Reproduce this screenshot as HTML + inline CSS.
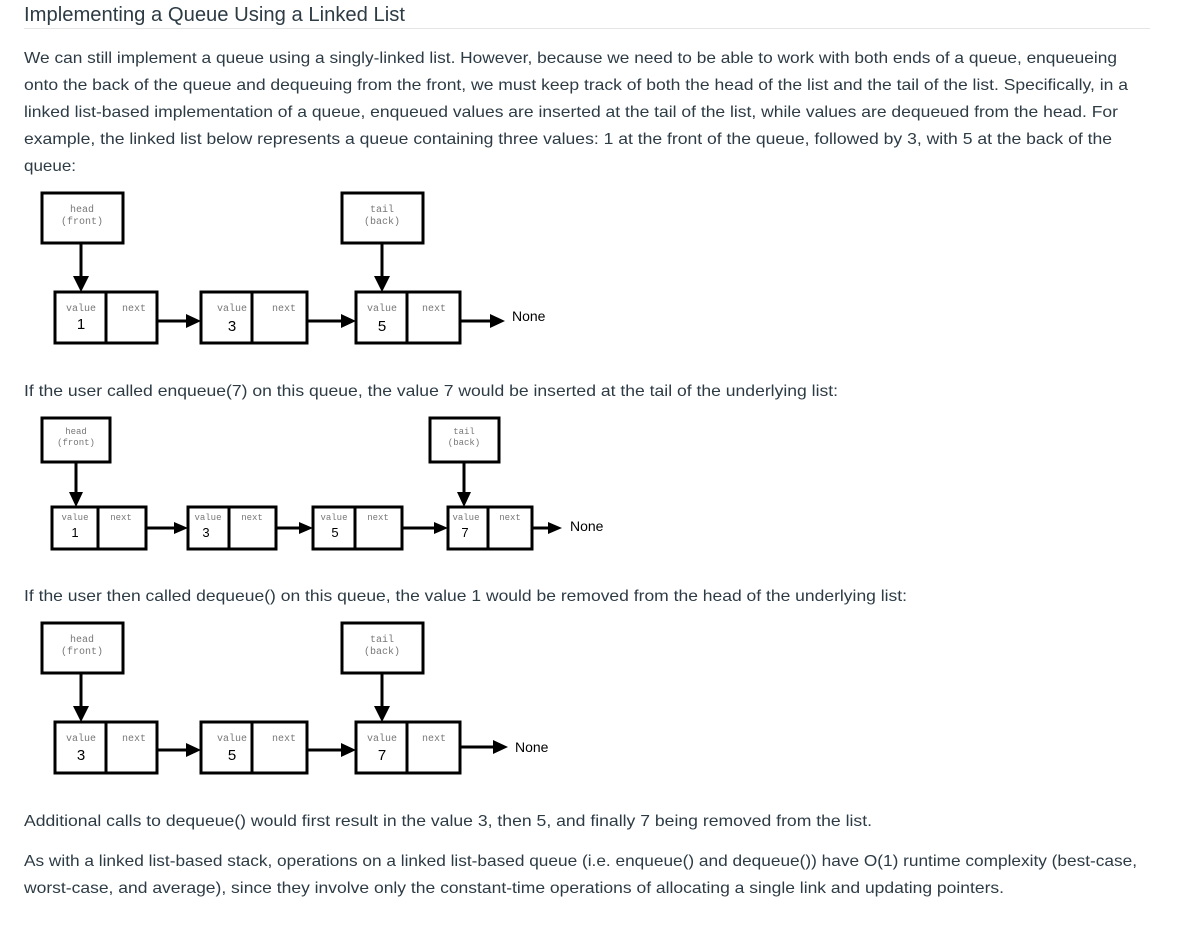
<!DOCTYPE html>
<html><head><meta charset="utf-8"><style>
html,body{margin:0;padding:0;background:#fff;}
svg{display:block;}
.t{font-family:"Liberation Sans",sans-serif;font-size:16px;fill:#2d3b45;}
.m{font-family:"Liberation Mono",monospace;font-size:10px;fill:#777;}
.v{font-family:"Liberation Sans",sans-serif;font-size:15px;fill:#000;}
.b{fill:#fff;stroke:#000;stroke-width:3;}
.l{stroke:#000;stroke-width:3;}
</style></head><body>
<svg width="1191" height="927" viewBox="0 0 1191 927" xmlns="http://www.w3.org/2000/svg">
<text x="24" y="21" class="t" style="font-size:20px" textLength="381" lengthAdjust="spacingAndGlyphs">Implementing a Queue Using a Linked List</text>
<line x1="24" y1="28.5" x2="1150" y2="28.5" stroke="#e5e5e5" stroke-width="1"/>
<text x="24" y="63" class="t" textLength="1093" lengthAdjust="spacingAndGlyphs">We can still implement a queue using a singly-linked list.  However, because we need to be able to work with both ends of a queue, enqueueing</text>
<text x="24" y="90" class="t" textLength="1104" lengthAdjust="spacingAndGlyphs">onto the back of the queue and dequeuing from the front, we must keep track of both the head of the list and the tail of the list. Specifically, in a</text>
<text x="24" y="117" class="t" textLength="1094" lengthAdjust="spacingAndGlyphs">linked list-based implementation of a queue, enqueued values are inserted at the tail of the list, while values are dequeued from the head. For</text>
<text x="24" y="144" class="t" textLength="1088" lengthAdjust="spacingAndGlyphs">example, the linked list below represents a queue containing three values: 1 at the front of the queue, followed by 3, with 5 at the back of the</text>
<text x="24" y="171" class="t" textLength="52" lengthAdjust="spacingAndGlyphs">queue:</text>
<text x="24" y="396" class="t" textLength="814" lengthAdjust="spacingAndGlyphs">If the user called enqueue(7) on this queue, the value 7 would be inserted at the tail of the underlying list:</text>
<text x="24" y="601" class="t" textLength="883" lengthAdjust="spacingAndGlyphs">If the user then called dequeue() on this queue, the value 1 would be removed from the head of the underlying list:</text>
<text x="24" y="826" class="t" textLength="848" lengthAdjust="spacingAndGlyphs">Additional calls to dequeue() would first result in the value 3, then 5, and finally 7 being removed from the list.</text>
<text x="24" y="866" class="t" textLength="1113" lengthAdjust="spacingAndGlyphs">As with a linked list-based stack, operations on a linked list-based queue (i.e. enqueue() and dequeue()) have O(1) runtime complexity (best-case,</text>
<text x="24" y="893" class="t" textLength="980" lengthAdjust="spacingAndGlyphs">worst-case, and average), since they involve only the constant-time operations of allocating a single link and updating pointers.</text>

<!-- Diagram 1 -->
<g>
<rect class="b" x="42" y="193" width="81" height="50"/>
<text class="m" x="82" y="212" text-anchor="middle">head</text><text class="m" x="82" y="224" text-anchor="middle">(front)</text>
<rect class="b" x="342" y="193" width="81" height="50"/>
<text class="m" x="382" y="212" text-anchor="middle">tail</text><text class="m" x="382" y="224" text-anchor="middle">(back)</text>
<line class="l" x1="81" y1="243" x2="81" y2="278"/><polygon points="73,276 89,276 81,292"/>
<line class="l" x1="382" y1="243" x2="382" y2="278"/><polygon points="374,276 390,276 382,292"/>
<rect class="b" x="55" y="292" width="51" height="51"/><rect class="b" x="106" y="292" width="51" height="51"/>
<rect class="b" x="201" y="292" width="51" height="51"/><rect class="b" x="252" y="292" width="55" height="51"/>
<rect class="b" x="356" y="292" width="51" height="51"/><rect class="b" x="407" y="292" width="53" height="51"/>
<text class="m" x="81" y="311" text-anchor="middle">value</text><text class="m" x="134" y="311" text-anchor="middle">next</text><text class="v" x="81" y="329" text-anchor="middle">1</text>
<text class="m" x="232" y="311" text-anchor="middle">value</text><text class="m" x="284" y="311" text-anchor="middle">next</text><text class="v" x="232" y="331" text-anchor="middle">3</text>
<text class="m" x="382" y="311" text-anchor="middle">value</text><text class="m" x="434" y="311" text-anchor="middle">next</text><text class="v" x="382" y="331" text-anchor="middle">5</text>
<line class="l" x1="157" y1="321" x2="188" y2="321"/><polygon points="186,314 186,328 201,321"/>
<line class="l" x1="307" y1="321" x2="343" y2="321"/><polygon points="341,314 341,328 356,321"/>
<line class="l" x1="460" y1="321" x2="492" y2="321"/><polygon points="490,314 490,328 505,321"/>
<text class="v" x="512" y="321" style="font-size:14px">None</text>
</g>

<!-- Diagram 2 -->
<g>
<rect class="b" x="42" y="418" width="68" height="44"/>
<text class="m" x="76" y="434" text-anchor="middle" style="font-size:9px">head</text><text class="m" x="76" y="445" text-anchor="middle" style="font-size:9px">(front)</text>
<rect class="b" x="430" y="418" width="69" height="44"/>
<text class="m" x="464" y="434" text-anchor="middle" style="font-size:9px">tail</text><text class="m" x="464" y="445" text-anchor="middle" style="font-size:9px">(back)</text>
<line class="l" x1="76" y1="462" x2="76" y2="494"/><polygon points="69,492 83,492 76,507"/>
<line class="l" x1="464" y1="462" x2="464" y2="494"/><polygon points="457,492 471,492 464,507"/>
<rect class="b" x="52" y="507" width="46" height="42"/><rect class="b" x="98" y="507" width="48" height="42"/>
<rect class="b" x="188" y="507" width="41" height="42"/><rect class="b" x="229" y="507" width="47" height="42"/>
<rect class="b" x="313" y="507" width="42" height="42"/><rect class="b" x="355" y="507" width="47" height="42"/>
<rect class="b" x="448" y="507" width="40" height="42"/><rect class="b" x="488" y="507" width="44" height="42"/>
<text class="m" x="75" y="520" text-anchor="middle" style="font-size:9px">value</text><text class="m" x="121" y="520" text-anchor="middle" style="font-size:9px">next</text><text class="v" x="75" y="537" text-anchor="middle" style="font-size:13px">1</text>
<text class="m" x="208" y="520" text-anchor="middle" style="font-size:9px">value</text><text class="m" x="252" y="520" text-anchor="middle" style="font-size:9px">next</text><text class="v" x="206" y="537" text-anchor="middle" style="font-size:13px">3</text>
<text class="m" x="334" y="520" text-anchor="middle" style="font-size:9px">value</text><text class="m" x="378" y="520" text-anchor="middle" style="font-size:9px">next</text><text class="v" x="335" y="537" text-anchor="middle" style="font-size:13px">5</text>
<text class="m" x="466" y="520" text-anchor="middle" style="font-size:9px">value</text><text class="m" x="510" y="520" text-anchor="middle" style="font-size:9px">next</text><text class="v" x="465" y="537" text-anchor="middle" style="font-size:13px">7</text>
<line class="l" x1="146" y1="528" x2="176" y2="528"/><polygon points="174,522 174,534 188,528"/>
<line class="l" x1="276" y1="528" x2="301" y2="528"/><polygon points="299,522 299,534 313,528"/>
<line class="l" x1="402" y1="528" x2="436" y2="528"/><polygon points="434,522 434,534 448,528"/>
<line class="l" x1="532" y1="528" x2="550" y2="528"/><polygon points="548,522 548,534 562,528"/>
<text class="v" x="570" y="531" style="font-size:14px">None</text>
</g>

<!-- Diagram 3 -->
<g>
<rect class="b" x="42" y="623" width="81" height="50"/>
<text class="m" x="82" y="642" text-anchor="middle">head</text><text class="m" x="82" y="654" text-anchor="middle">(front)</text>
<rect class="b" x="342" y="623" width="81" height="50"/>
<text class="m" x="382" y="642" text-anchor="middle">tail</text><text class="m" x="382" y="654" text-anchor="middle">(back)</text>
<line class="l" x1="81" y1="673" x2="81" y2="708"/><polygon points="73,706 89,706 81,722"/>
<line class="l" x1="382" y1="673" x2="382" y2="708"/><polygon points="374,706 390,706 382,722"/>
<rect class="b" x="55" y="722" width="51" height="51"/><rect class="b" x="106" y="722" width="51" height="51"/>
<rect class="b" x="201" y="722" width="51" height="51"/><rect class="b" x="252" y="722" width="55" height="51"/>
<rect class="b" x="356" y="722" width="51" height="51"/><rect class="b" x="407" y="722" width="53" height="51"/>
<text class="m" x="81" y="741" text-anchor="middle">value</text><text class="m" x="134" y="741" text-anchor="middle">next</text><text class="v" x="81" y="760" text-anchor="middle">3</text>
<text class="m" x="232" y="741" text-anchor="middle">value</text><text class="m" x="284" y="741" text-anchor="middle">next</text><text class="v" x="232" y="760" text-anchor="middle">5</text>
<text class="m" x="382" y="741" text-anchor="middle">value</text><text class="m" x="434" y="741" text-anchor="middle">next</text><text class="v" x="382" y="760" text-anchor="middle">7</text>
<line class="l" x1="157" y1="750" x2="188" y2="750"/><polygon points="186,743 186,757 201,750"/>
<line class="l" x1="307" y1="750" x2="343" y2="750"/><polygon points="341,743 341,757 356,750"/>
<line class="l" x1="460" y1="747" x2="495" y2="747"/><polygon points="493,740 493,754 508,747"/>
<text class="v" x="515" y="752" style="font-size:14px">None</text>
</g>
</svg>
</body></html>
